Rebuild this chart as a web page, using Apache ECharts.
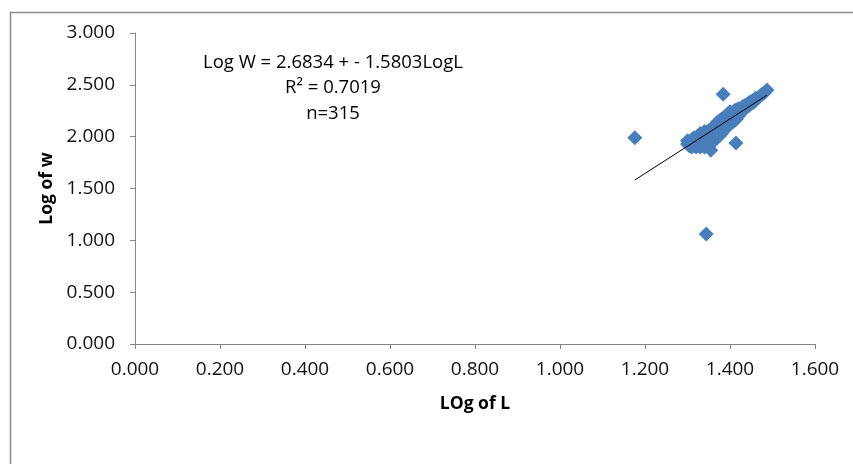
<!DOCTYPE html>
<html><head><meta charset="utf-8">
<script src="https://cdn.jsdelivr.net/npm/echarts@6/dist/echarts.min.js"></script>
<style>html,body{margin:0;padding:0;background:#fff}#c{width:853px;height:464px}</style>
</head><body><div id="c"></div>
<script>
// Log of L values (x)
const logL = [
1.300,1.300, 1.305,1.305, 1.310,1.310,1.310, 1.315,1.315,1.315, 1.320,1.320,1.320, 1.325,1.325,1.325,
1.330,1.330,1.330,1.330, 1.335,1.335,1.335, 1.340,1.340,1.340,1.340, 1.345,1.345,1.345,
1.350,1.350,1.350,1.350, 1.355,1.355,1.355,1.355, 1.360,1.360,1.360,1.360, 1.365,1.365,1.365,1.365,
1.370,1.370,1.370,1.370, 1.375,1.375,1.375,1.375, 1.380,1.380,1.380,1.380, 1.385,1.385,1.385,1.385,
1.390,1.390,1.390,1.390, 1.395,1.395,1.395,1.395, 1.400,1.400,1.400,1.400, 1.405,1.405,1.405,
1.410,1.410,1.410, 1.415,1.415,1.415, 1.420,1.420,1.420, 1.425,1.425, 1.430,1.430, 1.435,1.435,
1.440,1.440, 1.445,1.445, 1.450,1.450, 1.455,1.455, 1.460,1.460, 1.465, 1.470, 1.475, 1.480,
1.487, 1.384, 1.414, 1.344, 1.176];
// Log of W values (y)
const logW = [
1.93,1.96, 1.91,1.95, 1.93,1.97,1.90, 1.92,1.96,1.99, 1.90,1.94,1.98, 1.91,1.96,2.01,
1.90,1.94,1.99,2.03, 1.92,1.97,2.02, 1.90,1.95,2.00,2.05, 1.93,1.98,2.04,
1.92,1.96,2.01,2.06, 1.87,1.94,1.99,2.05, 1.95,2.00,2.04,2.09, 1.97,2.03,2.08,2.11,
1.99,2.05,2.10,2.14, 2.01,2.06,2.11,2.15, 2.03,2.08,2.13,2.17, 2.06,2.11,2.15,2.18,
2.08,2.13,2.17,2.20, 2.10,2.15,2.19,2.22, 2.12,2.17,2.21,2.24, 2.14,2.19,2.23,
2.15,2.20,2.25, 2.17,2.22,2.26, 2.20,2.24,2.27, 2.23,2.27, 2.25,2.29, 2.27,2.30,
2.29,2.31, 2.30,2.33, 2.32,2.34, 2.33,2.35, 2.35,2.37, 2.37, 2.39, 2.41, 2.42,
2.45, 2.41, 1.94, 1.06, 1.99];
// trend line end points
const trendX = [1.176, 1.487];
const trendY = [1.582, 2.400];
const xTicks = {min: 0, max: 1.6, interval: 0.2};
const yTicks = {min: 0, max: 3, interval: 0.5};
const eqLines = ['Log W = 2.6834 + - 1.5803LogL', 'R\u00B2 = 0.7019', 'n=315'];
const xTitle = 'LOg of L';
const yTitle = 'Log of w';

const FONT = "'Open Sans', sans-serif";
const chart = echarts.init(document.getElementById('c'), null, {renderer: 'canvas'});
const pts = logL.map((x, i) => [x, logW[i]]);
const axisCommon = {
  axisLine: {show: true, lineStyle: {color: '#868686', width: 1}},
  axisTick: {show: true, inside: false, length: 5, lineStyle: {color: '#868686'}},
  splitLine: {show: false},
  nameTextStyle: {fontFamily: FONT, fontWeight: 'bold', fontSize: 17.5, color: '#000'}
};
chart.setOption({
  animation: false,
  backgroundColor: '#fff',
  grid: {left: 135, right: 38, top: 33, bottom: 120, containLabel: false},
  xAxis: Object.assign({}, axisCommon, {
    type: 'value', min: xTicks.min, max: xTicks.max, interval: xTicks.interval,
    name: xTitle, nameLocation: 'middle', nameGap: 51,
    axisLabel: {fontFamily: FONT, fontSize: 19, color: '#111', margin: 16, formatter: v => v.toFixed(3)}
  }),
  yAxis: Object.assign({}, axisCommon, {
    type: 'value', min: yTicks.min, max: yTicks.max, interval: yTicks.interval,
    name: yTitle, nameLocation: 'middle', nameGap: 79, nameRotate: 90,
    axisLabel: {fontFamily: FONT, fontSize: 19, color: '#111', margin: 20, formatter: v => v.toFixed(3)}
  }),
  series: [
    {type: 'scatter', data: pts, symbol: 'diamond', symbolSize: 15,
     itemStyle: {color: '#4a7ebb', opacity: 1}, z: 2},
    {type: 'line', data: trendX.map((x, i) => [x, trendY[i]]), symbol: 'none',
     lineStyle: {color: '#000', width: 1}, z: 3}
  ],
  graphic: [
    {type: 'rect', left: 8, top: 10, shape: {width: 900, height: 500}, silent: true, z: -10,
     style: {fill: 'none', stroke: '#8c8c8c', lineWidth: 1.5}},
    {type: 'text', x: 333, y: 63, style: {text: eqLines[0], font: '18.5px ' + FONT, fill: '#000', align: 'center', verticalAlign: 'middle'}},
    {type: 'text', x: 333, y: 88, style: {text: eqLines[1], font: '18.5px ' + FONT, fill: '#000', align: 'center', verticalAlign: 'middle'}},
    {type: 'text', x: 333, y: 114, style: {text: eqLines[2], font: '18.5px ' + FONT, fill: '#000', align: 'center', verticalAlign: 'middle'}}
  ]
});
</script></body></html>
